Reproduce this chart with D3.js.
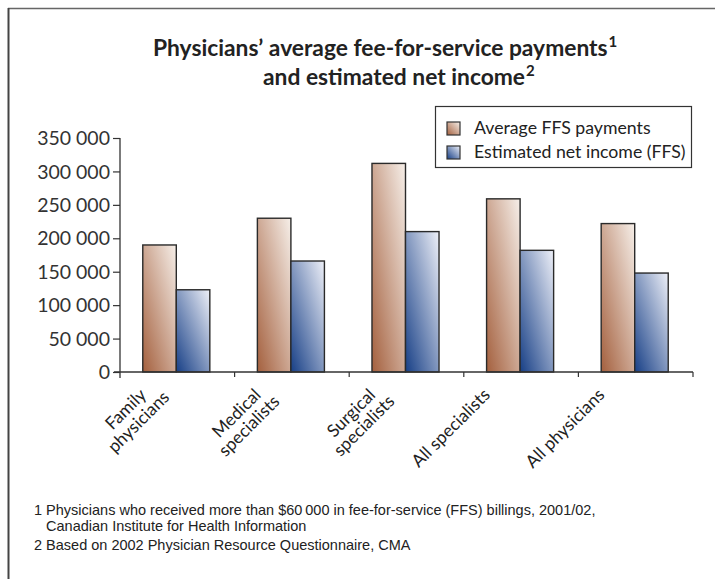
<!DOCTYPE html>
<html><head><meta charset="utf-8">
<script src="https://cdn.jsdelivr.net/npm/d3@7"></script>
<style>
html,body{margin:0;padding:0;background:#fff;}
svg{display:block;}
</style></head>
<body>
<svg id="chart" width="715" height="579"></svg>
<script>
const categories = [["Family","physicians"],["Medical","specialists"],["Surgical","specialists"],["All specialists"],["All physicians"]];
const seriesNames = ["Average FFS payments","Estimated net income (FFS)"];
const ffsPayments = [190000, 230000, 312000, 259000, 222000];
const netIncome = [123000, 166000, 210000, 182000, 148000];
const yTicks = [0,50000,100000,150000,200000,250000,300000,350000];
const titleLines = [["Physicians\u2019 average fee-for-service payments","1"],["and estimated net income","2"]];
const footnotes = [
  "1 Physicians who received more than $60\u2009000 in fee-for-service (FFS) billings, 2001/02,",
  "   Canadian Institute for Health Information",
  "2 Based on 2002 Physician Resource Questionnaire, CMA"
];

const svg = d3.select("#chart");
const FONT = "Lato, 'DejaVu Sans', sans-serif";

// gradients
const defs = svg.append("defs");
function grad(id, light, dark){
  const g = defs.append("linearGradient").attr("id", id)
    .attr("x1",1).attr("y1",0).attr("x2",0).attr("y2",1);
  g.append("stop").attr("offset","0%").attr("stop-color",light);
  g.append("stop").attr("offset","100%").attr("stop-color",dark);
}
grad("gFFS", "#f6efe9", "#a4603e");
grad("gNet", "#eef0f8", "#173f86");
const fills = ["url(#gFFS)","url(#gNet)"];

// frame (top and left)
svg.append("line").attr("x1",8).attr("x2",715).attr("y1",8.5).attr("y2",8.5).attr("stroke","#666").attr("stroke-width",1.5);
svg.append("line").attr("x1",8.5).attr("x2",8.5).attr("y1",8).attr("y2",579).attr("stroke","#444").attr("stroke-width",2);

// title
const titleY = [56, 85];
const titleX = [153, 263];
titleLines.forEach((l,i)=>{
  const t = svg.append("text").attr("x",titleX[i]).attr("y",titleY[i])
    .attr("font-family",FONT).attr("font-weight","bold").attr("font-size",22.8).attr("fill","#222");
  t.append("tspan").text(l[0]);
  t.append("tspan").attr("dx",1).attr("dy",-9).attr("font-size",15).text(l[1]);
});

const m = {left:120, right:693, top:138, bottom:372};
const y = d3.scaleLinear().domain([0,350000]).range([m.bottom, m.top]);
const x0 = d3.scaleBand().domain(d3.range(categories.length)).range([m.left, m.right]).padding(0);
const bw = x0.bandwidth();
const x1 = d3.scaleBand().domain([0,1]).range([0, bw*0.585]);
const groupOff = (bw - bw*0.585)/2 - 1;

// y axis
const yAxis = d3.axisLeft(y).tickValues(yTicks).tickSize(7).tickFormat(v => v===0 ? "0" : d3.format(",")(v).replace(/,/g," "));
const gy = svg.append("g").attr("transform",`translate(${m.left},0)`).call(yAxis);
gy.select(".domain").attr("d", `M0,${m.top}V${m.bottom+6}`).attr("stroke","#333").attr("stroke-width",1.3);
gy.selectAll(".tick line").attr("stroke","#333").attr("stroke-width",1.2);
gy.selectAll(".tick text").attr("font-family",FONT).attr("font-size",19.5).attr("fill","#333").attr("x",-10).attr("dy","0.34em");

// bars
const data = categories.map((c,i)=>[ffsPayments[i], netIncome[i]]);
const groups = svg.append("g").selectAll("g").data(data).join("g")
  .attr("transform",(d,i)=>`translate(${x0(i)+groupOff},0)`);
groups.selectAll("rect").data(d=>d).join("rect")
  .attr("x",(d,j)=>x1(j)).attr("width",x1.bandwidth())
  .attr("y",d=>y(d)).attr("height",d=>y(0)-y(d))
  .attr("fill",(d,j)=>fills[j]).attr("stroke","#2a2a2a").attr("stroke-width",1.4);

// x axis
const gx = svg.append("g");
gx.append("line").attr("x1",m.left-6).attr("x2",m.right).attr("y1",y(0)).attr("y2",y(0)).attr("stroke","#333").attr("stroke-width",1.3);
gx.selectAll("line.tk").data(categories).join("line").attr("class","tk")
  .attr("x1",(d,i)=>x0(i)+bw).attr("x2",(d,i)=>x0(i)+bw)
  .attr("y1",y(0)).attr("y2",y(0)+5).attr("stroke","#333").attr("stroke-width",1.2);

// x labels rotated, lines centred, first line end anchored left of band centre
const LH = 18;
const lab = svg.append("g").selectAll("text").data(categories).join("text")
  .attr("font-family",FONT).attr("font-size",17.5).attr("fill","#222")
  .attr("text-anchor","end")
  .attr("transform",(d,i)=>`translate(${x0(i)+bw/2 - 30},${y(0)+24}) rotate(-45)`);
lab.each(function(d){
  const t = d3.select(this);
  const spans = d.map((s,k)=> t.append("tspan").attr("y",k*LH).text(s));
  const w = spans.map(sp=>sp.node().getComputedTextLength());
  const w0 = w[0];
  spans.forEach((sp,k)=> sp.attr("x",(w[k]-w0)/2));
});

// legend
const lg = svg.append("g");
lg.append("rect").attr("x",435.5).attr("y",106.5).attr("width",256).attr("height",61).attr("fill","#fff").attr("stroke","#333").attr("stroke-width",1.2);
seriesNames.forEach((s,i)=>{
  const yy = 122 + i*24;
  lg.append("rect").attr("x",447).attr("y",yy).attr("width",13).attr("height",13).attr("fill",fills[i]).attr("stroke","#333").attr("stroke-width",1.2);
  lg.append("text").attr("x",474).attr("y",yy+12).attr("font-family",FONT).attr("font-size",17.7).attr("fill","#222").text(s);
});

// footnotes
const fnY = [515, 531, 550];
footnotes.forEach((f,i)=>{
  svg.append("text").attr("x",34).attr("y",fnY[i]).attr("font-family","'Liberation Sans Narrow', 'Liberation Sans', sans-serif")
    .attr("font-size",14.5).attr("fill","#222").style("white-space","pre").text(f);
});
</script>
</body></html>
